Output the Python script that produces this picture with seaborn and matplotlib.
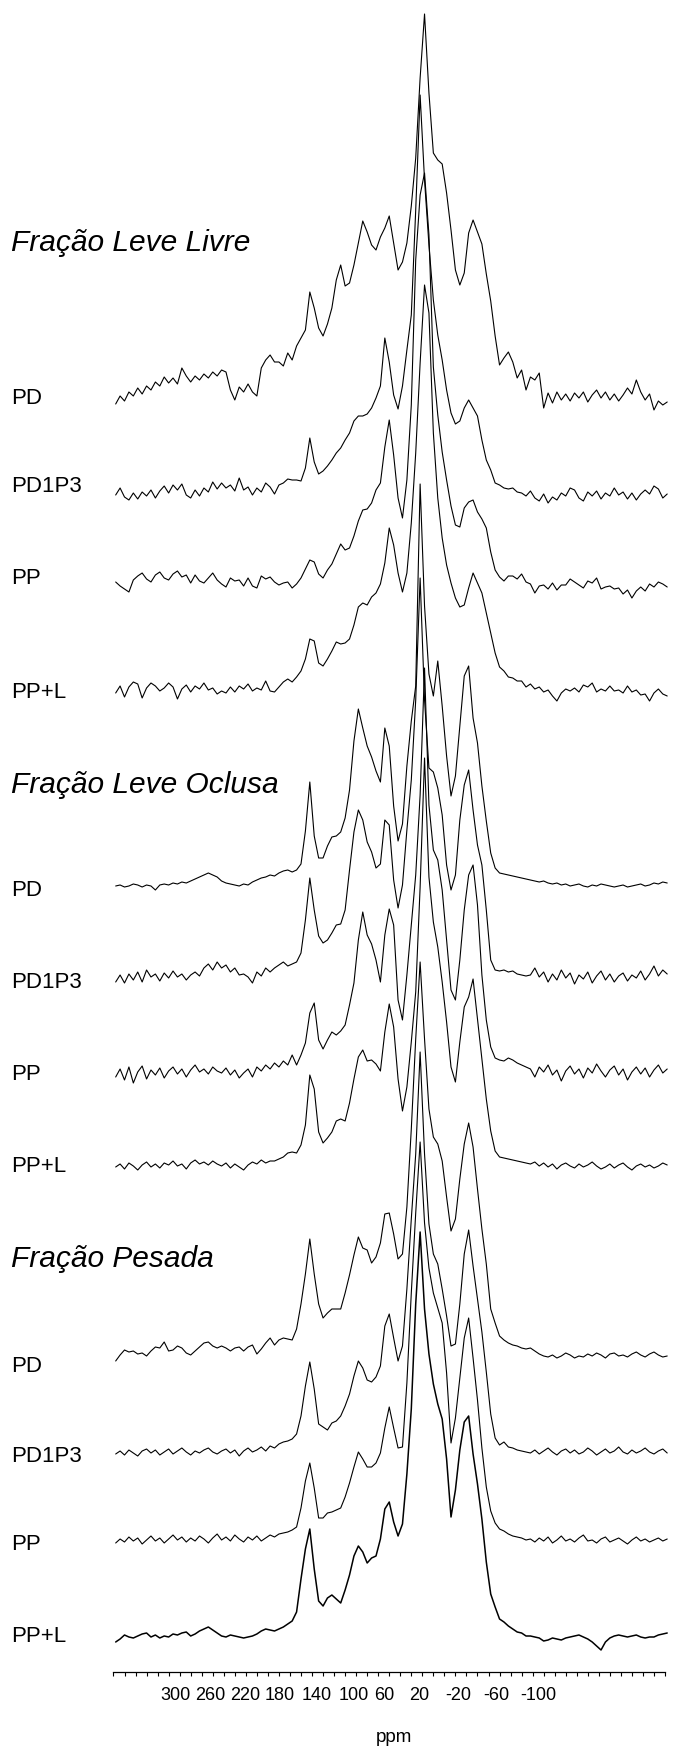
#!/usr/bin/env python3
"""
Stacked 13C CP/MAS NMR spectra of three soil organic matter fractions
(free light, occluded light and heavy fraction) for four treatments.
Output: out.png (675 x 1746 px)
"""

import numpy as np
import pandas as pd
import matplotlib
matplotlib.use("Agg")
import matplotlib.pyplot as plt
from matplotlib.ticker import MultipleLocator
import seaborn as sns


# === Data ===
# spectra are sampled every 4 ppm, from 348 down to -152 ppm (126 points)
PPM = np.arange(348, -153, -4)

GROUPS = ["Fração Leve Livre", "Fração Leve Oclusa", "Fração Pesada"]
SAMPLES = ["PD", "PD1P3", "PP", "PP+L"]

# intensities (same arbitrary unit for every spectrum)
FLL_PD = [-6, 2, -3, 6, 2, 10, 4, 12, 8, 16, 12, 21, 15, 20, 14, 30, 22, 16, 22, 18, 24, 20, 26, 22, 28, 26, 8, -2, 11, 6, 14, 6, 2, 30, 38, 43,
          36, 36, 32, 45, 38, 52, 60, 68, 106, 90, 70, 62, 74, 90, 118, 133, 112, 115, 133, 155, 177, 166, 153, 148, 161, 170, 182, 155, 128, 136,
          155, 192, 240, 320, 384, 305, 245, 238, 234, 205, 168, 128, 113, 125, 165, 178, 166, 154, 124, 97, 62, 33, 40, 46, 36, 20, 28, 8,
          21, 18, 25, -10, 5, -5, 6, -2, 4, -3, 5, 0, 6, -4, 3, 8, 0, 6, -2, 4, -3, 3, 10, 4, 18, 6, -2, 4, -12, -3, -7, -4]
FLL_PD1P3 = [-5, 2, -7, -10, -3, -9, -2, -6, 0, -8, -1, 4, -3, 5, 0, 6, -5, -8, 0, -6, 2, -2, 8, 1, 7, 2, 5, -1, 12, 0, 3, -5, 2, -2, 7, 3,
             -4, 5, 7, 11, 10, 10, 9, 22, 52, 28, 16, 19, 24, 30, 37, 42, 50, 57, 69, 74, 74, 76, 82, 92, 104, 152, 128, 95, 81, 104,
             140, 175, 280, 395, 310, 245, 190, 155, 130, 100, 77, 66, 69, 82, 90, 82, 74, 50, 30, 20, 7, 5, 2, 1, 2, -2, -3, -6,
             -1, -8, -11, -4, -13, -7, -10, -3, -6, 2, 0, -8, -11, -2, -6, -1, -9, -3, -6, 2, -5, -2, -9, -3, -10, -4, 0, -4, 4, 1, -8, -4]
FLL_PP = [-2, -6, -9, -12, 0, 4, 7, 1, -2, 5, 8, 2, 0, 6, 9, 3, 5, -3, 5, -1, -3, 2, 7, 0, -4, -7, 2, -1, 0, -6, 2, -6, -8, 4, 1, 3,
          -2, -5, -3, -2, -8, -4, 2, 11, 20, 18, 6, 2, 10, 16, 26, 36, 30, 32, 44, 59, 70, 71, 77, 90, 97, 133, 160, 125, 82, 62,
          100, 175, 320, 385, 407, 345, 213, 165, 128, 100, 74, 55, 53, 72, 78, 80, 68, 61, 52, 28, 10, 3, -1, 4, 4, 1, 6, -2,
          -4, -13, -6, -5, -9, -3, -10, -5, -5, 1, -2, -5, -8, -1, -3, 2, -9, -7, -6, -9, -8, -14, -10, -18, -11, -7, -11, -4, -7, -2, -4, -7]
FLL_PPL = [0, 7, -4, 6, 11, 9, -5, 5, 10, 7, 2, 5, 10, 6, -6, 4, 8, 1, 7, 4, 10, 3, 5, -1, 2, 0, 6, 1, 7, 4, 9, 2, 5, 3, 12, 2,
           1, 6, 11, 14, 11, 16, 22, 34, 54, 52, 30, 27, 34, 42, 51, 49, 50, 54, 68, 86, 90, 88, 96, 100, 109, 130, 165, 148, 120, 101,
           120, 170, 240, 330, 408, 380, 260, 195, 155, 128, 110, 95, 86, 88, 105, 120, 110, 100, 80, 60, 40, 26, 22, 16, 15, 12, 12, 6,
           9, 4, 6, 1, 3, -3, -8, 0, 4, 2, 5, 1, 8, 6, 10, 1, 4, 2, 7, 2, 3, 0, 7, 1, 3, -2, -1, -8, 0, 4, -1, -3]

FLO_PD = [0, 1, -1, 0, 2, 1, -1, 1, 0, -4, 1, 2, 1, 3, 2, 4, 3, 5, 7, 9, 11, 13, 11, 9, 5, 3, 2, 1, 0, 2, 1, 4, 6, 8, 9, 11,
          10, 13, 15, 16, 14, 16, 22, 55, 104, 50, 28, 28, 40, 49, 50, 54, 68, 96, 145, 177, 158, 140, 129, 115, 104, 158, 140, 80, 45, 62,
          120, 165, 200, 402, 280, 212, 190, 225, 180, 130, 90, 110, 160, 210, 220, 168, 143, 100, 65, 33, 18, 13, 12, 11, 10, 9, 8, 7,
          6, 5, 4, 5, 3, 2, 3, 1, 2, 0, 1, 2, 0, -1, 1, 0, 2, 1, 0, -1, 0, 1, -1, 0, 1, 2, 0, 1, 3, 2, 4, 3]
FLO_PD1P3 = [-2, 5, -3, 6, 0, 8, -2, 10, 3, 6, -1, 7, 2, 9, 3, 6, 0, 5, 8, 4, 12, 16, 10, 18, 12, 15, 8, 12, 5, 6, 3, -3, 8, 4, 12, 8,
             12, 15, 18, 14, 16, 18, 27, 60, 102, 70, 44, 37, 40, 47, 55, 56, 70, 110, 148, 170, 160, 138, 128, 112, 116, 160, 155, 100, 72, 95,
             150, 200, 280, 402, 280, 212, 208, 192, 165, 115, 90, 105, 160, 195, 210, 170, 135, 115, 70, 20, 10, 9, 10, 8, 9, 6, 5, 4,
             5, 12, 3, 8, -2, 6, 0, 10, 2, 7, -4, 5, 1, 8, -3, 4, 9, 0, 6, -2, 4, 7, -1, 5, 2, 9, 0, 6, 14, 4, 10, 6]
FLO_PP = [-2, 6, -5, 8, -8, 3, 9, -4, 5, 0, 7, -3, 4, 8, 1, 6, -2, 5, 10, 3, 6, 1, 8, 4, 2, 7, 0, 5, -3, 2, 6, -2, 8, 4, 10, 6,
          12, 8, 14, 10, 20, 10, 20, 32, 62, 72, 35, 26, 35, 43, 40, 44, 50, 70, 92, 135, 163, 140, 131, 115, 93, 140, 166, 150, 75, 55,
          100, 150, 200, 280, 407, 270, 225, 215, 185, 135, 85, 75, 115, 165, 200, 210, 170, 100, 55, 28, 17, 15, 14, 17, 15, 12, 10, 8,
          6, -2, 8, 3, 10, 0, 5, -6, 4, 9, 1, 6, -3, 7, 2, 11, 4, -2, 5, 9, 0, 6, -5, 3, 8, 1, 7, -2, 5, 10, 2, 6]
FLO_PPL = [0, 3, -2, 4, 1, -3, 2, 5, 0, 3, -1, 4, 2, 6, 1, 3, -2, 4, 7, 3, 5, 2, 6, 3, 1, 4, -1, 3, 0, -3, 2, 5, 3, 7, 4, 6,
           6, 8, 10, 14, 15, 14, 22, 42, 92, 78, 35, 24, 29, 35, 46, 48, 46, 64, 88, 110, 117, 106, 107, 103, 96, 135, 163, 140, 88, 56,
           80, 125, 175, 280, 409, 290, 245, 220, 185, 145, 100, 85, 125, 160, 170, 188, 148, 108, 68, 36, 16, 10, 9, 8, 7, 6, 5, 4,
           3, 5, 1, 4, 0, 3, -2, 2, 4, 1, -1, 3, 0, 2, 5, 1, -2, 0, 3, -1, 2, 4, 0, -3, 1, 3, 0, 2, -1, 1, 4, 2]

FP_PD = [-2, 4, 9, 7, 8, 5, 6, 3, 8, 12, 11, 17, 8, 9, 13, 11, 6, 4, 8, 12, 16, 17, 13, 11, 13, 11, 8, 11, 12, 8, 12, 14, 5, 10, 16, 21,
         14, 19, 21, 20, 19, 30, 55, 85, 120, 85, 55, 41, 46, 50, 50, 50, 66, 84, 104, 122, 111, 109, 96, 102, 116, 145, 146, 125, 100, 105,
         152, 230, 320, 397, 320, 250, 222, 215, 198, 162, 128, 140, 180, 215, 236, 212, 170, 130, 95, 50, 36, 23, 19, 16, 14, 13, 11, 10,
         11, 8, 5, 3, 2, 4, 1, 3, 6, 4, 1, 3, 2, 5, 3, 6, 4, 1, 5, 6, 3, 4, 2, 5, 7, 4, 2, 5, 7, 4, 2, 3]
FP_PD1P3 = [0, 3, -1, 4, 1, -2, 3, 5, 1, 4, -1, 2, 5, 0, 3, 6, 2, -1, 3, 1, 4, 6, 2, 0, 3, 5, 1, 4, -2, 3, 6, 2, 4, 7, 3, 8,
            6, 10, 12, 13, 15, 20, 38, 68, 92, 65, 30, 27, 24, 31, 33, 38, 48, 60, 78, 93, 86, 74, 72, 77, 88, 128, 140, 116, 93, 108,
            165, 235, 300, 402, 300, 230, 200, 190, 165, 138, 108, 110, 150, 200, 224, 188, 155, 122, 82, 40, 16, 9, 12, 7, 6, 4, 3, 2,
            1, 4, 0, 3, 6, 2, -1, 3, 5, 1, 4, 0, 2, 6, 3, -1, 2, 5, 1, 3, 7, 2, 0, 4, 1, 3, 6, 2, 0, 3, 5, 1]
FP_PP = [0, 4, 1, 6, 2, 5, -1, 3, 7, 2, 5, 0, 4, 8, 3, 6, 1, 5, 2, 7, 4, 0, 5, 9, 3, 6, 2, 8, 4, 1, 6, 3, 7, 2, 5, 8,
         6, 9, 10, 11, 13, 16, 35, 62, 80, 55, 25, 25, 30, 31, 33, 35, 46, 60, 76, 91, 84, 76, 76, 80, 90, 115, 136, 115, 95, 96,
         160, 250, 330, 401, 320, 275, 250, 235, 220, 170, 100, 125, 165, 205, 225, 185, 143, 95, 56, 32, 20, 14, 12, 9, 7, 6, 5, 3,
         4, 1, 5, 2, 6, 0, 3, 7, 2, 4, 1, 5, 8, 2, 3, 0, 4, 6, 1, 3, 5, 2, -1, 3, 6, 2, 4, 1, 3, 5, 2, 4]
FP_PPL = [-8, -5, -1, -3, -4, -2, 0, 1, -3, -1, -4, -2, -3, 0, -1, 1, 2, -2, 0, 3, 5, 7, 4, 1, -2, -3, -1, -2, -3, -4, -3, -2, 0, 3, 5, 4,
          3, 5, 7, 10, 13, 22, 55, 85, 105, 65, 33, 28, 36, 39, 35, 31, 44, 59, 78, 88, 82, 71, 76, 78, 95, 125, 132, 112, 98, 110,
          160, 225, 330, 402, 325, 280, 250, 230, 215, 175, 117, 144, 184, 212, 218, 180, 150, 115, 72, 40, 27, 15, 12, 8, 5, 2, 1, -2,
          -2, -3, -4, -7, -6, -4, -5, -6, -4, -3, -2, -1, -3, -5, -8, -12, -16, -8, -4, -2, -1, -2, -3, -2, -1, -3, -4, -3, -3, -1, 0, 1]

SPECTRA = [FLL_PD, FLL_PD1P3, FLL_PP, FLL_PPL,
           FLO_PD, FLO_PD1P3, FLO_PP, FLO_PPL,
           FP_PD, FP_PD1P3, FP_PP, FP_PPL]

TICK_TEXT = ["300", "260", "220", "180", "140", "100", "60", "20", "-20", "-60", "-100"]


# === Layout (pixels from the top of the figure) ===
W, H = 675, 1746
AX_LEFT, AX_RIGHT, AX_BOTTOM = 112.7, 665.0, 1672.0
XLIM = (350.7, -150.0)
BASELINES = [398, 490, 580, 693, 886, 980, 1075, 1167, 1359, 1454, 1543, 1634]
LABEL_Y = [398, 487, 579, 693, 891, 982, 1074, 1166, 1366, 1456, 1545, 1637]
TITLE_Y = [243, 785, 1259]
# the printed scale labels sit where the original figure put them
TICK_POS = [294.0, 262.5, 230.7, 199.2, 165.9, 132.6, 104.4, 72.7, 37.8, 2.9, -35.3]
PPM_LABEL_X, PPM_LABEL_Y = 393.5, 1737


def main():
    sns.set_theme(style="white")
    plt.rcParams["font.family"] = ["Liberation Sans", "DejaVu Sans"]

    fig = plt.figure(figsize=(W / 100, H / 100), dpi=100)
    ax = fig.add_axes([AX_LEFT / W, (H - AX_BOTTOM) / H,
                       (AX_RIGHT - AX_LEFT) / W, AX_BOTTOM / H])

    # Step 1: stacked spectra
    for i, (vals, base) in enumerate(zip(SPECTRA, BASELINES)):
        df = pd.DataFrame({"ppm": PPM, "h": vals})
        df["y"] = base - df["h"]
        lw = 1.1 if i == len(SPECTRA) - 1 else 0.8
        sns.lineplot(data=df, x="ppm", y="y", sort=False, estimator=None,
                     color="black", linewidth=lw, ax=ax)
        ax.lines[-1].set_clip_on(False)

    ax.set_xlim(*XLIM)
    ax.set_ylim(AX_BOTTOM, 0)

    # Step 2: axis styling
    for side in ["top", "left", "right"]:
        ax.spines[side].set_visible(False)
    ax.spines["bottom"].set_color("black")
    ax.spines["bottom"].set_linewidth(0.9)
    ax.set_yticks([])
    ax.set_ylabel("")
    ax.set_xticks(TICK_POS, labels=TICK_TEXT)
    ax.xaxis.set_minor_locator(MultipleLocator(10))
    ax.tick_params(axis="x", which="major", bottom=True, length=0, pad=11,
                   labelsize=13, labelcolor="black")
    ax.tick_params(axis="x", which="minor", bottom=True, length=3,
                   width=0.8, color="black", direction="out")
    ax.set_xlabel("")
    fig.text(PPM_LABEL_X / W, 1 - PPM_LABEL_Y / H, "ppm", fontsize=13.5,
             ha="center", va="center", color="black")

    # Step 3: sample and fraction labels
    for k, name in enumerate(SAMPLES * 3):
        fig.text(11 / W, 1 - LABEL_Y[k] / H, name, fontsize=16,
                 ha="left", va="center", color="black")
    for title, ty in zip(GROUPS, TITLE_Y):
        fig.text(11 / W, 1 - ty / H, title, fontsize=21.5, style="italic",
                 ha="left", va="center", color="black")

    fig.savefig("out.png", dpi=100, facecolor="white")
    plt.close(fig)


if __name__ == "__main__":
    main()
